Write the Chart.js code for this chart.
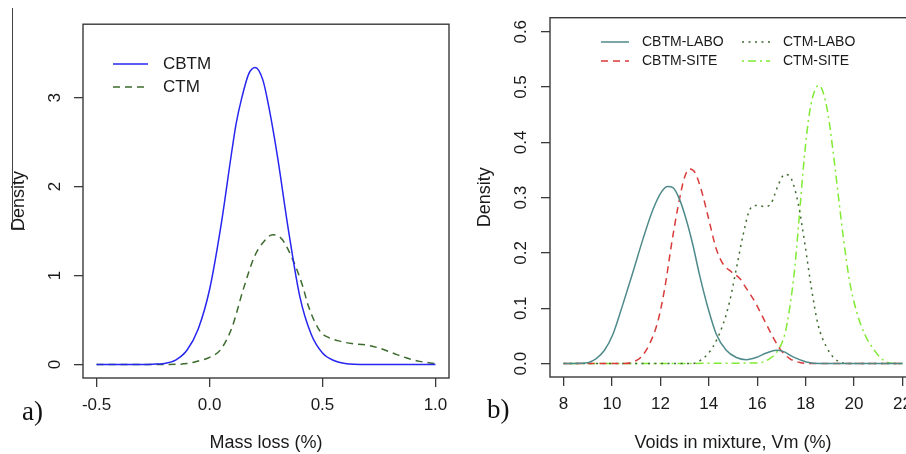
<!DOCTYPE html>
<html>
<head>
<meta charset="utf-8">
<script src="https://cdn.jsdelivr.net/npm/chart.js@4.4.1/dist/chart.umd.min.js"></script>
<style>
  html, body { margin: 0; padding: 0; background: #fff; width: 906px; height: 454px; overflow: hidden; }
  #wrap { position: relative; width: 906px; height: 454px; overflow: hidden; }
  .cv { position: absolute; top: 0; }
  .panel { position: absolute; font-family: 'Liberation Serif', 'Times New Roman', serif; font-size: 27px; color: #111; line-height: 1; }
  .art { position: absolute; background: #444; }
</style>
</head>
<body>
<div id="wrap">
  <canvas id="left" class="cv" width="460" height="454" style="left:0;width:460px;height:454px"></canvas>
  <canvas id="right" class="cv" width="470" height="454" style="left:460px;width:470px;height:454px"></canvas>
  <div class="panel" style="left:22px;top:398px">a)</div>
  <div class="panel" style="left:487px;top:396px">b)</div>
  <div class="art" style="left:12px;top:8px;width:1px;height:222px"></div>
  <div class="art" style="left:12px;top:229px;width:13px;height:1px"></div>
</div>
<script>
// ---------- Panel a) data: Mass loss (%) densities ----------
const cbtmX = [-0.5, -0.3, -0.25, -0.2, -0.15, -0.1, -0.05, 0.0, 0.05, 0.1, 0.118, 0.143, 0.174, 0.202, 0.236, 0.263, 0.3, 0.35, 0.4, 0.45, 0.5, 0.55, 0.6, 0.7, 1.0];
const cbtmY = [0, 0, 0.003, 0.012, 0.05, 0.16, 0.4, 0.84, 1.55, 2.42, 2.71, 3.0, 3.27, 3.34, 3.2, 2.89, 2.35, 1.5, 0.76, 0.34, 0.13, 0.045, 0.012, 0.001, 0];
const ctmX = [-0.5, -0.2, -0.1, -0.05, 0.0, 0.05, 0.1, 0.15, 0.2, 0.24, 0.28, 0.32, 0.37, 0.41, 0.44, 0.49, 0.53, 0.58, 0.63, 0.69, 0.75, 0.81, 0.87, 0.93, 1.0];
const ctmY = [0, 0, 0.01, 0.04, 0.08, 0.17, 0.42, 0.85, 1.22, 1.38, 1.46, 1.41, 1.17, 0.9, 0.64, 0.37, 0.3, 0.26, 0.235, 0.22, 0.185, 0.13, 0.075, 0.035, 0.01];
const leftXTicks = [-0.5, 0.0, 0.5, 1.0];
const leftXLabels = ['-0.5', '0.0', '0.5', '1.0'];
const leftYTicks = [0, 1, 2, 3];
const leftYLabels = ['0', '1', '2', '3'];

// ---------- Panel b) data: Voids in mixture, Vm (%) densities ----------
const cbtmLaboX = [8, 8.9, 9.35, 9.69, 10.04, 10.45, 10.87, 11.28, 11.69, 12.04, 12.31, 12.52, 12.8, 13.07, 13.35, 13.62, 13.97, 14.31, 14.72, 15.14, 15.55, 15.96, 16.38, 16.79, 17.07, 17.48, 18.03, 18.6, 22];
const cbtmLaboY = [0, 0.001, 0.009, 0.024, 0.053, 0.107, 0.166, 0.225, 0.278, 0.31, 0.32, 0.318, 0.296, 0.26, 0.213, 0.16, 0.1, 0.053, 0.024, 0.011, 0.007, 0.011, 0.019, 0.024, 0.022, 0.012, 0.003, 0, 0];
const cbtmSiteX = [8, 10.5, 10.87, 11.21, 11.56, 11.9, 12.18, 12.45, 12.73, 13.0, 13.21, 13.42, 13.69, 13.97, 14.31, 14.59, 14.93, 15.28, 15.55, 15.9, 16.24, 16.59, 16.93, 17.34, 17.76, 18.3, 22];
const cbtmSiteY = [0, 0, 0.003, 0.012, 0.036, 0.077, 0.136, 0.213, 0.284, 0.337, 0.352, 0.346, 0.314, 0.266, 0.207, 0.18, 0.166, 0.154, 0.136, 0.112, 0.083, 0.053, 0.027, 0.009, 0.002, 0, 0];
const ctmLaboX = [8, 13.3, 13.76, 14.17, 14.59, 14.86, 15.14, 15.41, 15.69, 15.96, 16.31, 16.58, 16.86, 17.14, 17.41, 17.69, 17.96, 18.24, 18.51, 18.86, 19.2, 19.55, 19.9, 22];
const ctmLaboY = [0, 0, 0.009, 0.03, 0.071, 0.112, 0.172, 0.231, 0.278, 0.286, 0.284, 0.29, 0.322, 0.342, 0.334, 0.29, 0.219, 0.136, 0.071, 0.03, 0.009, 0.001, 0, 0];
const ctmSiteX = [8, 16.0, 16.52, 16.86, 17.14, 17.34, 17.55, 17.76, 17.96, 18.17, 18.38, 18.56, 18.72, 18.93, 19.13, 19.34, 19.55, 19.82, 20.1, 20.44, 20.79, 21.13, 21.48, 22];
const ctmSiteY = [0, 0.001, 0.009, 0.024, 0.053, 0.1, 0.172, 0.278, 0.379, 0.456, 0.494, 0.503, 0.491, 0.45, 0.385, 0.308, 0.231, 0.148, 0.095, 0.053, 0.027, 0.009, 0.001, 0];
const rightXTicks = [8, 10, 12, 14, 16, 18, 20, 22];
const rightXLabels = ['8', '10', '12', '14', '16', '18', '20', '22'];
const rightYTicks = [0, 0.1, 0.2, 0.3, 0.4, 0.5, 0.6];
const rightYLabels = ['0.0', '0.1', '0.2', '0.3', '0.4', '0.5', '0.6'];

const FONT = "'Liberation Sans', Arial, Helvetica, sans-serif";
const TXT = '#1a1a1a';
const AXC = '#3a3a3a';

function pts(xs, ys) { return xs.map((x, i) => ({ x: x, y: ys[i] })); }

const boxPlugin = {
  id: 'rBox',
  afterDraw(chart) {
    const a = chart.chartArea, ctx = chart.ctx;
    ctx.save();
    ctx.strokeStyle = AXC; ctx.lineWidth = 1.4; ctx.setLineDash([]);
    ctx.strokeRect(a.left, a.top, a.right - a.left, a.bottom - a.top);
    ctx.restore();
  }
};

const legendPlugin = {
  id: 'rLegend',
  afterDatasetsDraw(chart, args, opts) {
    const ctx = chart.ctx;
    ctx.save();
    chart.data.datasets.forEach((ds, i) => {
      const s = opts.slots[i];
      ctx.strokeStyle = ds.borderColor; ctx.lineWidth = ds.borderWidth;
      ctx.setLineDash(ds.borderDash || []);
      ctx.beginPath(); ctx.moveTo(s.x1, s.y); ctx.lineTo(s.x2, s.y); ctx.stroke();
      ctx.setLineDash([]);
      ctx.fillStyle = TXT; ctx.font = opts.font; ctx.textBaseline = 'middle'; ctx.textAlign = 'left';
      ctx.fillText(ds.label, s.tx, s.y);
    });
    ctx.restore();
  }
};

function axisX(min, max, ticks, labels, title, h) {
  return {
    type: 'linear', position: 'bottom', min: min, max: max,
    afterBuildTicks: s => { s.ticks = ticks.map(v => ({ value: v })); },
    afterFit: s => { s.height = h; },
    grid: { display: true, drawOnChartArea: false, drawTicks: true, tickLength: 9, color: AXC, lineWidth: 1.3 },
    border: { display: false },
    ticks: { autoSkip: false, maxRotation: 0, minRotation: 0, padding: 8, color: TXT, font: { family: FONT, size: 17 },
             callback: v => labels[ticks.indexOf(v)] },
    title: { display: true, text: title, color: TXT, font: { family: FONT, size: 18 }, padding: { top: 0, bottom: 0 } }
  };
}
function axisY(min, max, ticks, labels, w, tickPad, titlePad) {
  return {
    type: 'linear', position: 'left', min: min, max: max,
    afterBuildTicks: s => { s.ticks = ticks.map(v => ({ value: v })); },
    afterFit: s => { s.width = w; },
    grid: { display: true, drawOnChartArea: false, drawTicks: true, tickLength: 9, color: AXC, lineWidth: 1.3 },
    border: { display: false },
    ticks: { autoSkip: false, minRotation: 90, maxRotation: 90, crossAlign: 'center', padding: tickPad, color: TXT,
             font: { family: FONT, size: 17 }, callback: v => labels[ticks.indexOf(v)] },
    title: { display: true, text: 'Density', color: TXT, font: { family: FONT, size: 18 }, padding: { top: titlePad, bottom: 0 } }
  };
}

function ds(label, xs, ys, color, dash) {
  return { label: label, data: pts(xs, ys), borderColor: color, borderWidth: 1.5, borderDash: dash,
           pointRadius: 0, fill: false, showLine: true, tension: 0,
           cubicInterpolationMode: 'monotone' };
}

new Chart(document.getElementById('left'), {
  type: 'scatter',
  data: { datasets: [
    ds('CBTM', cbtmX, cbtmY, '#2626f0', []),
    ds('CTM', ctmX, ctmY, '#3d6b2d', [7, 5])
  ] },
  options: {
    responsive: false, animation: false, events: [],
    layout: { padding: { left: 0, top: 12, right: 11, bottom: 0 } },
    scales: {
      x: axisX(-0.56, 1.06, leftXTicks, leftXLabels, 'Mass loss (%)', 76),
      y: axisY(-0.152, 3.826, leftYTicks, leftYLabels, 83, 14, 8)
    },
    plugins: {
      legend: { display: false }, tooltip: { enabled: false },
      rLegend: { font: "17px " + FONT, slots: [ { x1: 113, x2: 148, tx: 163, y: 64 }, { x1: 113, x2: 148, tx: 163, y: 87 } ] }
    }
  },
  plugins: [boxPlugin, legendPlugin]
});

new Chart(document.getElementById('right'), {
  type: 'scatter',
  data: { datasets: [
    ds('CBTM-LABO', cbtmLaboX, cbtmLaboY, '#4f8a8b', []),
    ds('CBTM-SITE', cbtmSiteX, cbtmSiteY, '#d93a3a', [7, 5]),
    ds('CTM-LABO', ctmLaboX, ctmLaboY, '#3d6b2d', [2, 4.5]),
    ds('CTM-SITE', ctmSiteX, ctmSiteY, '#80ea34', [2, 4, 8, 4])
  ] },
  options: {
    responsive: false, animation: false, events: [],
    layout: { padding: { left: 0, top: 11, right: 14, bottom: 0 } },
    scales: {
      x: axisX(7.44, 22.56, rightXTicks, rightXLabels, 'Voids in mixture, Vm (%)', 77),
      y: axisY(-0.0243, 0.6254, rightYTicks, rightYLabels, 90, 7.5, 14)
    },
    plugins: {
      legend: { display: false }, tooltip: { enabled: false },
      rLegend: { font: "14px " + FONT, slots: [
        { x1: 141, x2: 169, tx: 182, y: 42 },
        { x1: 141, x2: 169, tx: 182, y: 61 },
        { x1: 282, x2: 310, tx: 323, y: 42 },
        { x1: 282, x2: 310, tx: 323, y: 61 } ] }
    }
  },
  plugins: [boxPlugin, legendPlugin]
});
</script>
</body>
</html>
